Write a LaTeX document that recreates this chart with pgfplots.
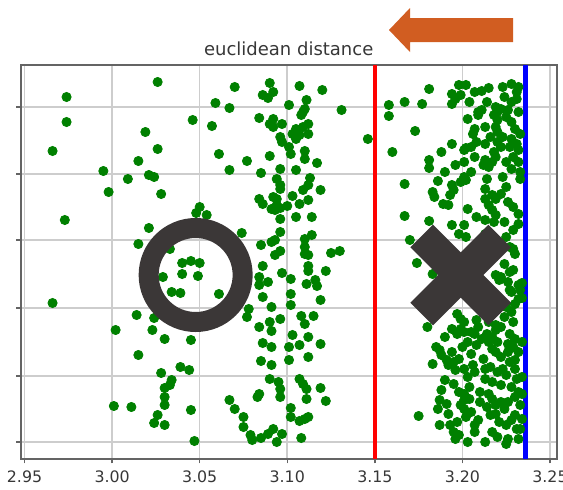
\documentclass[border=0pt]{standalone}
\usepackage{pgfplots}
\pgfplotsset{compat=1.18}
\usepackage{fontspec}
\setmainfont{DejaVu Sans}
\definecolor{dotgreen}{RGB}{0,128,0}
\definecolor{annot}{RGB}{59,55,55}
\definecolor{arroworange}{RGB}{209,93,33}
\definecolor{gridgray}{RGB}{205,205,205}
\definecolor{framegray}{RGB}{100,100,100}
\definecolor{txt}{RGB}{55,55,55}
\begin{document}
\begin{tikzpicture}
\useasboundingbox (-10.25pt,-15pt) rectangle (271.25pt,229.5pt);
\begin{axis}[
  at={(0,0)}, anchor=south west,
  scale only axis, width=268.25pt, height=197pt,
  xmin=2.9477, xmax=3.254, ymin=3, ymax=397,
  xtick={2.95,3.00,3.05,3.10,3.15,3.20,3.25},
  ytick={20,86,154,222,288,355}, yticklabels={},
  tick pos=left, tick align=outside,
  major tick length=2.2pt,
  tick style={framegray, line width=0.7pt},
  grid=major, major grid style={gridgray, line width=0.8pt},
  axis line style={framegray, line width=1pt},
  xticklabel style={font=\fontsize{7.9}{9}\selectfont, text=txt,
    /pgf/number format/.cd, fixed, fixed zerofill, precision=2, assume math mode=true},
  clip=true,
]
\addplot[only marks, mark=*, mark size=2.3pt, dotgreen, mark options={draw=dotgreen, fill=dotgreen}] coordinates {
(2.974,365)(3.026,380)(2.974,340)(2.966,311)(3.019,330)(3.026,313)(3.015,301)(2.995,291)(3.009,283)(3.021,287)(3.024,285)(2.998,270)(3.028,268)(2.973,242)(3.046,342)(3.057,336)(3.059,359)(3.067,354)(3.070,375)(3.061,308)(3.067,292)(3.077,301)(3.050,255)(3.048,249)(3.054,247)(3.021,234)(3.015,218)(3.033,213)(3.074,229)
(2.966,159)(3.040,199)(3.045,201)(3.050,199)(3.040,188)(3.049,186)(3.029,185)(3.034,170)(3.039,169)(3.061,168)(3.014,147)(3.024,144)(3.002,132)(3.023,132)(3.030,123)(3.045,122)(3.015,107)(3.039,95)(3.044,92)(3.028,89)(3.034,82)(3.033,77)(3.030,74)(3.030,65)(3.030,57)(3.001,56)(3.011,55)(3.045,52)(3.026,47)(3.024,39)(3.030,37)(3.047,21)
(3.090,379)(3.092,370)(3.086,367)(3.089,364)(3.107,376)(3.120,372)(3.111,362)(3.110,353)(3.108,347)(3.109,350)(3.101,357)(3.131,352)(3.084,344)(3.092,343)(3.090,338)(3.092,335)(3.097,338)(3.112,338)(3.109,335)(3.105,333)(3.103,328)(3.107,327)(3.112,328)(3.105,323)(3.096,325)(3.097,320)(3.101,315)(3.102,308)(3.110,311)(3.110,303)(3.090,306)(3.117,299)(3.085,289)(3.096,293)(3.105,292)(3.094,283)(3.096,277)(3.096,273)(3.113,284)(3.112,277)(3.109,272)(3.119,272)(3.084,263)(3.086,258)(3.092,265)(3.094,263)(3.094,257)(3.091,253)(3.093,252)(3.096,254)(3.100,256)(3.103,266)(3.107,258)(3.112,262)(3.096,243)(3.105,245)(3.114,245)(3.096,230)(3.114,227)(3.110,223)(3.085,217)(3.091,220)(3.093,222)(3.110,215)(3.110,208)(3.112,207)(3.093,207)(3.096,211)(3.125,209)(3.130,211)
(3.086,196)(3.112,196)(3.112,191)(3.122,191)(3.111,178)(3.116,182)(3.117,176)(3.119,162)(3.084,185)(3.084,177)(3.089,180)(3.097,189)(3.102,183)(3.102,168)(3.102,157)(3.086,165)(3.078,153)(3.077,145)(3.091,155)(3.084,135)(3.090,140)(3.096,143)(3.091,131)(3.108,146)(3.110,138)(3.115,146)(3.086,119)(3.091,115)(3.103,127)(3.101,115)(3.107,117)(3.112,125)(3.119,118)(3.112,105)(3.085,101)(3.091,97)(3.101,102)(3.090,83)(3.095,80)(3.096,73)(3.096,65)(3.107,83)(3.109,78)(3.111,73)(3.119,74)(3.111,63)(3.122,61)(3.084,68)(3.083,65)(3.067,62)(3.070,53)(3.075,45)(3.075,35)(3.102,54)(3.102,45)(3.107,41)(3.110,43)(3.112,45)(3.079,27)(3.080,22)(3.085,24)(3.089,28)(3.092,33)(3.097,28)(3.094,20)(3.108,24)
(3.146,323)(3.158,357)(3.158,346)(3.167,360)(3.177,358)(3.181,373)(3.173,331)(3.160,310)(3.194,368)(3.196,363)(3.194,358)(3.198,377)(3.202,377)(3.199,367)(3.207,370)(3.211,371)(3.215,374)(3.223,375)(3.228,378)(3.232,375)(3.224,365)(3.228,360)(3.231,363)(3.231,370)(3.219,355)(3.222,353)(3.220,350)(3.218,347)(3.220,342)(3.209,350)(3.211,352)(3.209,347)(3.203,343)(3.207,333)(3.206,328)(3.208,320)(3.205,315)(3.219,335)(3.220,330)(3.223,325)(3.220,320)(3.222,315)(3.218,310)(3.219,305)(3.217,300)(3.213,302)(3.212,297)(3.215,295)(3.228,340)(3.230,333)(3.228,323)(3.231,318)(3.232,312)(3.227,315)(3.229,305)(3.232,300)(3.228,293)(3.232,350)(3.233,328)(3.233,290)(3.233,283)(3.194,318)(3.201,312)(3.202,314)(3.181,302)(3.181,294)(3.201,300)(3.207,305)(3.201,285)(3.199,280)(3.202,282)(3.167,278)(3.186,281)(3.183,270)(3.184,265)(3.194,277)(3.195,272)(3.193,267)(3.189,258)(3.192,257)(3.213,273)(3.213,263)(3.217,267)(3.219,263)(3.215,257)(3.217,252)(3.219,247)(3.203,253)(3.208,245)(3.213,242)(3.218,240)(3.223,285)(3.232,248)(3.232,238)(3.229,232)(3.167,246)(3.181,241)(3.194,237)(3.201,237)(3.198,228)(3.202,225)(3.170,222)(3.225,225)(3.229,213)(3.230,208)(3.174,199)(3.229,192)(3.234,179)(3.234,164)
(3.183,188)(3.227,190)(3.222,185)(3.221,182)(3.226,180)(3.232,177)(3.233,172)(3.227,172)(3.232,163)(3.219,187)(3.180,135)(3.197,148)(3.199,143)(3.201,140)(3.199,133)(3.197,128)(3.201,130)(3.203,120)(3.200,115)(3.194,133)(3.190,125)(3.208,142)(3.209,135)(3.207,128)(3.211,123)(3.208,117)(3.205,108)(3.215,140)(3.219,137)(3.222,135)(3.219,132)(3.217,125)(3.215,120)(3.220,120)(3.217,113)(3.219,110)(3.228,150)(3.229,140)(3.227,128)(3.230,123)(3.229,115)(3.232,110)(3.185,115)(3.187,112)(3.188,107)(3.194,110)(3.191,102)(3.192,97)(3.195,100)(3.198,103)(3.196,92)(3.201,93)(3.203,85)(3.207,90)(3.213,93)(3.213,83)(3.217,80)(3.220,90)(3.223,93)(3.225,87)(3.222,77)(3.227,100)(3.230,93)(3.231,83)(3.228,75)(3.232,70)(3.188,72)(3.187,62)(3.186,53)(3.191,58)(3.192,48)(3.187,37)(3.175,46)(3.201,68)(3.201,62)(3.199,57)(3.201,53)(3.202,45)(3.193,37)(3.195,30)(3.198,27)(3.196,23)(3.209,42)(3.207,37)(3.207,30)(3.215,68)(3.217,63)(3.219,57)(3.219,48)(3.222,60)(3.224,53)(3.225,37)(3.228,42)(3.230,47)(3.231,33)(3.226,23)(3.225,18)(3.232,23)(3.234,85)(3.234,68)(3.233,57)(3.234,43)(3.233,33)(3.234,120)
(3.212,150)(3.216,155)(3.224,145)(3.210,160)(3.205,130)(3.214,128)(3.226,118)(3.222,105)(3.212,103)(3.206,97)(3.216,95)(3.226,110)(3.230,102)(3.204,75)(3.210,70)(3.214,55)(3.210,60)(3.205,50)(3.216,47)(3.221,40)(3.226,60)(3.230,65)(3.217,30)(3.220,25)(3.213,20)(3.203,20)(3.197,40)(3.190,82)(3.195,78)(3.198,70)(3.204,63)(3.183,98)(3.225,155)(3.218,165)(3.228,170)(3.230,158)(3.224,198)(3.218,205)(3.227,215)(3.221,220)(3.213,228)(3.224,240)(3.226,260)(3.222,268)(3.229,255)(3.225,275)(3.214,283)(3.205,290)(3.190,290)(3.196,297)(3.188,310)(3.213,318)(3.225,300)(3.216,325)(3.213,335)(3.225,345)(3.214,360)(3.204,360)(3.226,352)
};
\addplot[red, line width=2.3pt] coordinates {(3.15,3) (3.15,397)};
\addplot[blue, line width=2.3pt] coordinates {(3.236,3) (3.236,397)};
\coordinate (oc) at (axis cs:3.0477,187);
\coordinate (xc) at (axis cs:3.199,187);
\end{axis}
\draw[annot, line width=10pt] (oc) circle[radius=23.5pt];
\draw[annot, line width=16pt] ([shift={(-19.5pt,19.5pt)}]xc) -- ([shift={(19.5pt,-19.5pt)}]xc);
\draw[annot, line width=16pt] ([shift={(-19.5pt,-19.5pt)}]xc) -- ([shift={(19.5pt,19.5pt)}]xc);
\node[anchor=base, font=\fontsize{9}{11}\selectfont, text=txt, inner sep=0pt] at (134.1pt,202pt) {euclidean distance};
\fill[arroworange] (184.25pt,214.5pt) -- (194.75pt,225.5pt) -- (194.75pt,220.5pt) -- (246.25pt,220.5pt) -- (246.25pt,208.5pt) -- (194.75pt,208.5pt) -- (194.75pt,203.5pt) -- cycle;
\end{tikzpicture}
\end{document}
